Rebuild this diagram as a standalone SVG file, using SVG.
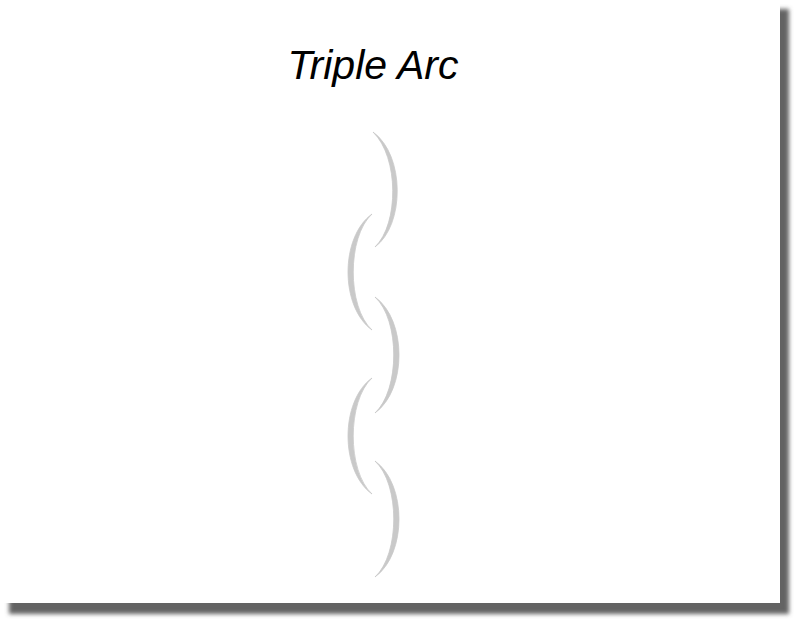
<svg xmlns="http://www.w3.org/2000/svg" width="800" height="622" viewBox="0 0 800 622">
<defs>
<filter id="sh" x="-5%" y="-5%" width="110%" height="110%"><feGaussianBlur stdDeviation="2"/></filter>
<style>
.arc{fill:#c9c9c9;stroke:#c9c9c9;stroke-width:0.8}
.title{font-family:"Liberation Sans",Arial,sans-serif;font-style:italic;font-size:41px;fill:#000}
</style>
</defs>
<rect x="0" y="0" width="800" height="622" fill="#ffffff"/>
<rect x="9" y="9" width="780" height="605" fill="#646464" filter="url(#sh)"/>
<rect x="0" y="0" width="780" height="603" fill="#ffffff"/>
<text class="title" x="373" y="79" text-anchor="middle">Triple Arc</text>
<g id="arcs">
<g id="arc1"><path class="arc" d="M373,132 C405,155 405,225 375,247 C399,224 399,157 373,132 Z"/></g>
<g id="arc2"><path class="arc" d="M372,214 C340,237 340,307 372,330 C347,307 347,237 372,214 Z"/></g>
<g id="arc3"><path class="arc" d="M375,297 C407,320 407,390 375,413 C400,390 400,320 375,297 Z"/></g>
<g id="arc4"><path class="arc" d="M372,378 C340,401 340,471 372,494 C347,471 347,401 372,378 Z"/></g>
<g id="arc5"><path class="arc" d="M375,461 C407,484 407,554 375,577 C400,554 400,484 375,461 Z"/></g>
</g>
</svg>
